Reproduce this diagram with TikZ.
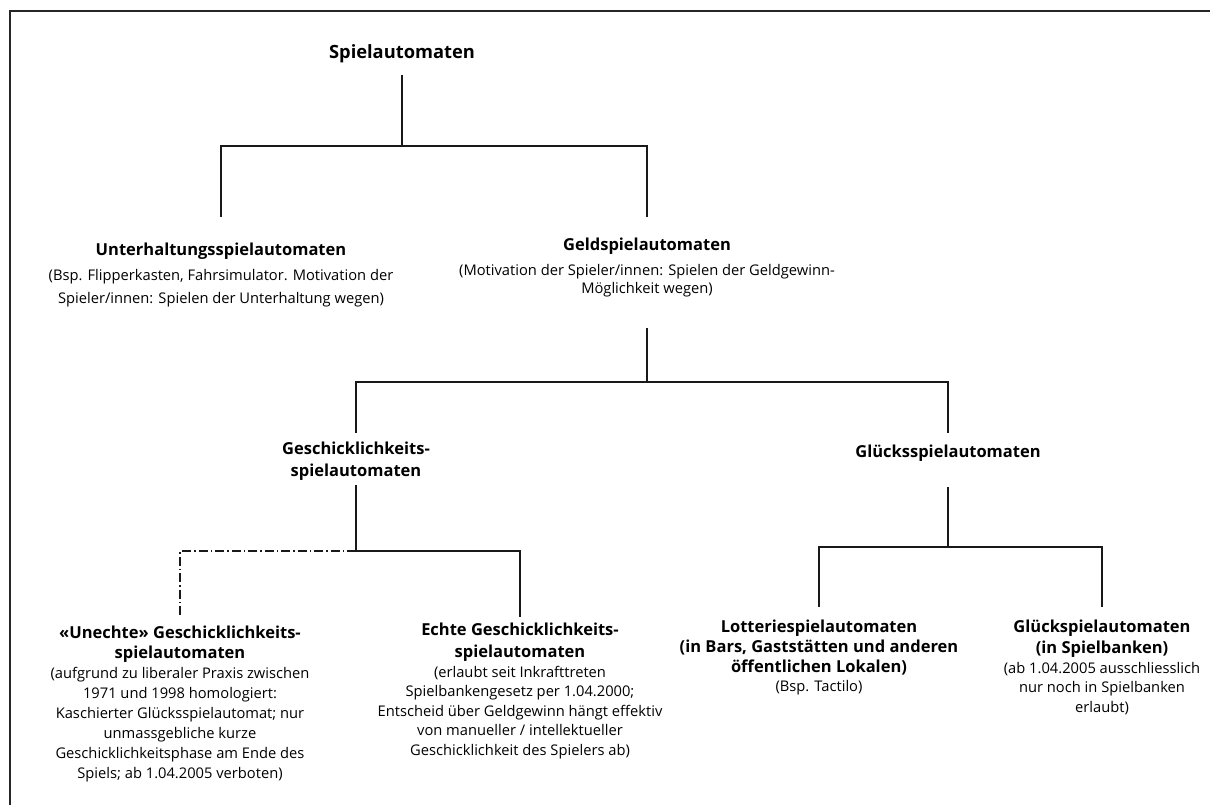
\documentclass[tikz,border=0pt]{standalone}
\usepackage{fontspec}
\setmainfont{Open Sans}
\begin{document}
\begin{tikzpicture}[x=1pt,y=-1pt,
  every node/.style={inner sep=0pt,outer sep=0pt,anchor=north,align=center,text=black},
  ttl/.style={font=\bfseries\fontsize{16.5}{#1}\selectfont},
  ttl/.default=22,
  sub/.style={font=\fontsize{14.7}{#1}\selectfont},
  sub/.default=20,
  conn/.style={line width=1.2pt,draw=black!90},
  dashdotline/.style={conn,dash pattern=on 9pt off 3pt on 1.5pt off 3pt},
  frame/.style={line width=1.3pt,draw=black!85}]
\useasboundingbox (0,0) rectangle (1210,805);
% frame (open to right and bottom)
\draw[frame] (1210,11) -- (10,11) -- (10,805);

% y levels
\coordinate (y75) at (0,75);
\coordinate (y146) at (0,146);
\coordinate (y217) at (0,217);
\coordinate (y328) at (0,328);
\coordinate (y382) at (0,382);
\coordinate (y433) at (0,433);
\coordinate (y485) at (0,485);
\coordinate (y551) at (0,551);
\coordinate (y617) at (0,617);
\coordinate (y487) at (0,487);
\coordinate (y547) at (0,547);
\coordinate (y607) at (0,607);

% nodes
\node[font=\bfseries\fontsize{18.3}{22}\selectfont] (root) at (402,45) {Spielautomaten};

\node[ttl] (unt) at (221,243) {Unterhaltungsspielautomaten};
\node[sub=23] (untd) at (221,269) {(Bsp. Flipperkasten, Fahrsimulator. Motivation der\\Spieler/innen: Spielen der Unterhaltung wegen)};

\node[ttl] (geld) at (647,238) {Geldspielautomaten};
\node[sub=18.5] (geldd) at (647,264) {(Motivation der Spieler/innen: Spielen der Geldgewinn-\\Möglichkeit wegen)};

\node[ttl=22] (gesch) at (356,442) {Geschicklichkeits-\\spielautomaten};
\node[ttl] (glue) at (948,445) {Glücksspielautomaten};

\node[ttl=20] (unecht) at (180,626) {«Unechte» Geschicklichkeits-\\spielautomaten};
\node[sub=20] (unechtd) at (180,667) {(aufgrund zu liberaler Praxis zwischen\\1971 und 1998 homologiert:\\Kaschierter Glücksspielautomat; nur\\unmassgebliche kurze\\Geschicklichkeitsphase am Ende des\\Spiels; ab 1.04.2005 verboten)};

\node[ttl=22] (echt) at (520,623) {Echte Geschicklichkeits-\\spielautomaten};
\node[sub=19.5] (echtd) at (520,666) {(erlaubt seit Inkrafttreten\\Spielbankengesetz per 1.04.2000;\\Entscheid über Geldgewinn hängt effektiv\\von manueller / intellektueller\\Geschicklichkeit des Spielers ab)};

\node[ttl=20] (lott) at (819,620) {Lotteriespielautomaten\\(in Bars, Gaststätten und anderen\\öffentlichen Lokalen)};
\node[sub] (lottd) at (819,680) {(Bsp. Tactilo)};

\node[ttl=21] (gsb) at (1102,620) {Glückspielautomaten\\(in Spielbanken)};
\node[sub=19.5] (gsbd) at (1102,662) {(ab 1.04.2005 ausschliesslich\\nur noch in Spielbanken\\erlaubt)};

% connectors
\draw[conn] (root |- y75) -- (root |- y146) -| (unt |- y217);
\draw[conn] (root |- y146) -| (geld |- y217);
\draw[conn] (geld |- y328) -- (geld |- y382) -| (gesch |- y433);
\draw[conn] (geld |- y382) -| (glue |- y433);
\draw[conn] (gesch |- y485) -- (gesch |- y551) -| (echt |- y617);
\draw[dashdotline] (gesch |- y551) -| (unecht |- y617);
\draw[conn] (glue |- y487) -- (glue |- y547) -| (lott |- y607);
\draw[conn] (glue |- y547) -| (gsb |- y607);
\end{tikzpicture}
\end{document}
